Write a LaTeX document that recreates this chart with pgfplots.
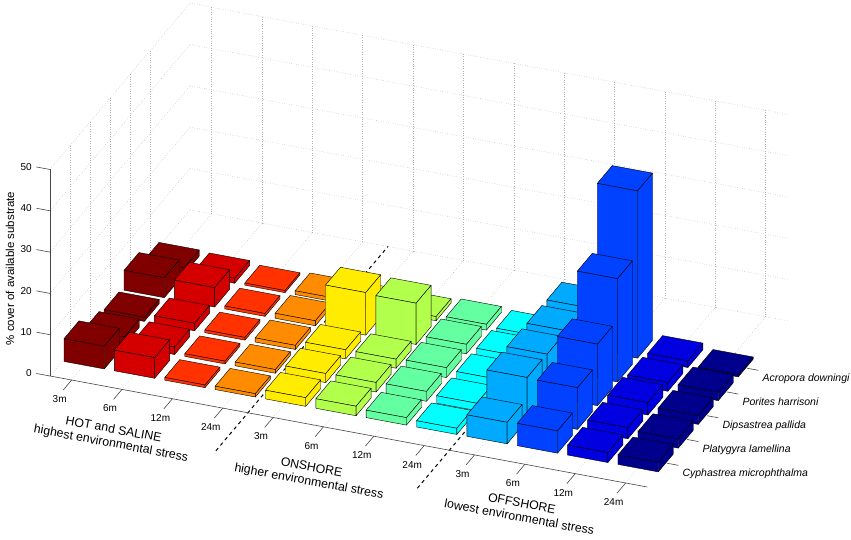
\documentclass[border=0pt]{standalone}
\usepackage{fontspec}
\setmainfont{Liberation Sans}
\usepackage{pgfplots}
\usepackage{pgfplotstable}
\pgfplotsset{compat=1.18}

\definecolor{col1}{RGB}{128,0,0}
\definecolor{col2}{RGB}{212,0,0}
\definecolor{col3}{RGB}{255,50,0}
\definecolor{col4}{RGB}{255,140,0}
\definecolor{col5}{RGB}{255,236,0}
\definecolor{col6}{RGB}{178,255,76}
\definecolor{col7}{RGB}{100,255,160}
\definecolor{col8}{RGB}{0,255,255}
\definecolor{col9}{RGB}{0,170,255}
\definecolor{col10}{RGB}{0,66,255}
\definecolor{col11}{RGB}{0,0,225}
\definecolor{col12}{RGB}{0,0,140}
\definecolor{axgray}{RGB}{70,70,70}

% c = site/depth column, r = species row (1 Cyphastrea ... 5 Acropora), h = % cover
\pgfplotstableread{
c r h
1 5 1.5
2 5 1.2
3 5 0.5
4 5 0.9
5 5 1.0
6 5 1.0
7 5 1.4
8 5 0.9
9 5 10.0
10 5 40.5
11 5 1.6
12 5 0.5
1 4 4.8
2 4 4.7
3 4 0.7
4 4 1.2
5 4 10.3
6 4 10.0
7 4 2.3
8 4 1.8
9 4 10.1
10 4 25.0
11 4 2.1
12 4 2.0
1 3 1.0
2 3 1.8
3 3 0.65
4 3 1.0
5 3 2.2
6 3 2.2
7 3 2.4
8 3 1.9
9 3 10.2
10 3 14.9
11 3 3.0
12 3 2.1
1 2 2.0
2 2 1.8
3 2 0.65
4 2 0.9
5 2 2.2
6 2 2.3
7 2 2.4
8 2 1.8
9 2 10.3
10 2 10.1
11 2 2.7
12 2 2.2
1 1 5.5
2 1 5.0
3 1 0.65
4 1 0.8
5 1 2.1
6 1 2.3
7 1 1.8
8 1 1.5
9 1 5.2
10 1 5.4
11 1 2.4
12 1 2.3
}\bardata

\begin{document}
\begin{tikzpicture}
\pgfplotstablegetrowsof{\bardata}
\pgfmathtruncatemacro\nlast{\pgfplotsretval-1}
\begin{axis}[
  x={(50.36pt,-9.36pt)}, y={(20pt,23.75pt)}, z={(0pt,4.13pt)},
  xmin=0.57, xmax=12.43, ymin=0, ymax=7, zmin=0, zmax=50,
  xtick={1,...,12}, ytick={1,...,5}, ztick={0,10,...,50},
  ticklabel style={opacity=0},
  major tick length=0pt,
  tick style={draw=none},
  grid=major,
  major grid style={black!30, dotted, line width=0.6pt},
  axis line style={draw=none},
  clip=false,
]
\coordinate (O) at (axis cs:0.57,0,0);

% separators
\addplot3[black, dash pattern=on 3.5pt off 3.5pt, line width=1pt] coordinates {(4.5,-1.6,0) (4.5,7,0)};
\addplot3[black, dash pattern=on 3.5pt off 3.5pt, line width=1pt] coordinates {(8.5,-1.6,0) (8.5,7,0)};

% axis lines
\draw[axgray, line width=0.6pt] (axis cs:0.57,0,0) -- (axis cs:12.43,0,0);
\draw[axgray, line width=0.6pt] (axis cs:0.57,0,0) -- (axis cs:0.57,0,50);
\pgfplotsinvokeforeach{1,...,12}{
  \draw[axgray, line width=0.6pt] (axis cs:#1,0,0) -- (axis cs:#1,-0.42,0);
}
\pgfplotsinvokeforeach{0,10,20,30,40,50}{
  \draw[axgray, line width=0.6pt] (axis cs:0.57,0,#1) -- (axis cs:0.30,0,#1);
  \node[anchor=east, inner sep=0pt, xshift=-3.5pt, font=\fontsize{10}{12}\selectfont] at (axis cs:0.28,0,#1) {#1};
}
\pgfplotsinvokeforeach{1,...,5}{
  \draw[axgray, line width=0.6pt] (axis cs:12.43,#1,0) -- (axis cs:12.65,#1,0);
}

% bars
\pgfplotsforeachungrouped \i in {0,...,\nlast}{%
  \pgfplotstablegetelem{\i}{c}\of\bardata \edef\cc{\pgfplotsretval}%
  \pgfplotstablegetelem{\i}{r}\of\bardata \edef\rr{\pgfplotsretval}%
  \pgfplotstablegetelem{\i}{h}\of\bardata \edef\hh{\pgfplotsretval}%
  \pgfmathsetmacro\xa{\cc-0.4}%
  \pgfmathsetmacro\xb{\cc+0.4}%
  \pgfmathsetmacro\ya{\rr-0.375}%
  \pgfmathsetmacro\yb{\rr+0.375}%
  \edef\barcmd{%
    \noexpand\addplot3[fill=col\cc, draw=black, line width=0.4pt, line join=round] coordinates {(\xa,\ya,\hh) (\xb,\ya,\hh) (\xb,\yb,\hh) (\xa,\yb,\hh) (\xa,\ya,\hh)};
    \noexpand\addplot3[fill=col\cc, draw=black, line width=0.4pt, line join=round] coordinates {(\xa,\ya,0) (\xb,\ya,0) (\xb,\ya,\hh) (\xa,\ya,\hh) (\xa,\ya,0)};
    \noexpand\addplot3[fill=col\cc, draw=black, line width=0.4pt, line join=round] coordinates {(\xb,\ya,0) (\xb,\yb,0) (\xb,\yb,\hh) (\xb,\ya,\hh) (\xb,\ya,0)};
  }%
  \barcmd
}

% x tick labels
\node[font=\fontsize{10}{12}\selectfont] at (axis cs:1,-0.6,-1.15) {3m};
\node[font=\fontsize{10}{12}\selectfont] at (axis cs:2,-0.6,-1.15) {6m};
\node[font=\fontsize{10}{12}\selectfont] at (axis cs:3,-0.6,-1.15) {12m};
\node[font=\fontsize{10}{12}\selectfont] at (axis cs:4,-0.6,-1.15) {24m};
\node[font=\fontsize{10}{12}\selectfont] at (axis cs:5,-0.6,-1.15) {3m};
\node[font=\fontsize{10}{12}\selectfont] at (axis cs:6,-0.6,-1.15) {6m};
\node[font=\fontsize{10}{12}\selectfont] at (axis cs:7,-0.6,-1.15) {12m};
\node[font=\fontsize{10}{12}\selectfont] at (axis cs:8,-0.6,-1.15) {24m};
\node[font=\fontsize{10}{12}\selectfont] at (axis cs:9,-0.6,-1.15) {3m};
\node[font=\fontsize{10}{12}\selectfont] at (axis cs:10,-0.6,-1.15) {6m};
\node[font=\fontsize{10}{12}\selectfont] at (axis cs:11,-0.6,-1.15) {12m};
\node[font=\fontsize{10}{12}\selectfont] at (axis cs:12,-0.6,-1.15) {24m};

% species labels
\node[anchor=west, inner sep=0pt, xshift=4pt, yshift=-8pt, font=\fontsize{10.5}{12}\selectfont\itshape] at (axis cs:12.65,5,0) {Acropora downingi};
\node[anchor=west, inner sep=0pt, xshift=4pt, yshift=-8pt, font=\fontsize{10.5}{12}\selectfont\itshape] at (axis cs:12.65,4,0) {Porites harrisoni};
\node[anchor=west, inner sep=0pt, xshift=4pt, yshift=-8pt, font=\fontsize{10.5}{12}\selectfont\itshape] at (axis cs:12.65,3,0) {Dipsastrea pallida};
\node[anchor=west, inner sep=0pt, xshift=4pt, yshift=-8pt, font=\fontsize{10.5}{12}\selectfont\itshape] at (axis cs:12.65,2,0) {Platygyra lamellina};
\node[anchor=west, inner sep=0pt, xshift=4pt, yshift=-8pt, font=\fontsize{10.5}{12}\selectfont\itshape] at (axis cs:12.65,1,0) {Cyphastrea microphthalma};

% group labels
\node[rotate=-10.5, align=center, font=\fontsize{12.3}{14}\selectfont] at (axis cs:2.52,-1.8,0) {HOT and SALINE\\highest environmental stress};
\node[rotate=-10.5, align=center, font=\fontsize{12.3}{14}\selectfont] at (axis cs:6.47,-1.85,0) {ONSHORE\\higher environmental stress};
\node[rotate=-10.5, align=center, font=\fontsize{12.3}{14}\selectfont] at (axis cs:10.59,-1.7,0) {OFFSHORE\\lowest environmental stress};

% z label
\node[rotate=90, font=\fontsize{11.5}{13}\selectfont] at (axis cs:-0.224,0,24.2) {\% cover of available substrate};
\end{axis}
\pgfresetboundingbox
\path[use as bounding box] (O) ++(-50pt,376pt) rectangle ++(851pt,-540pt);
\end{tikzpicture}
\end{document}
